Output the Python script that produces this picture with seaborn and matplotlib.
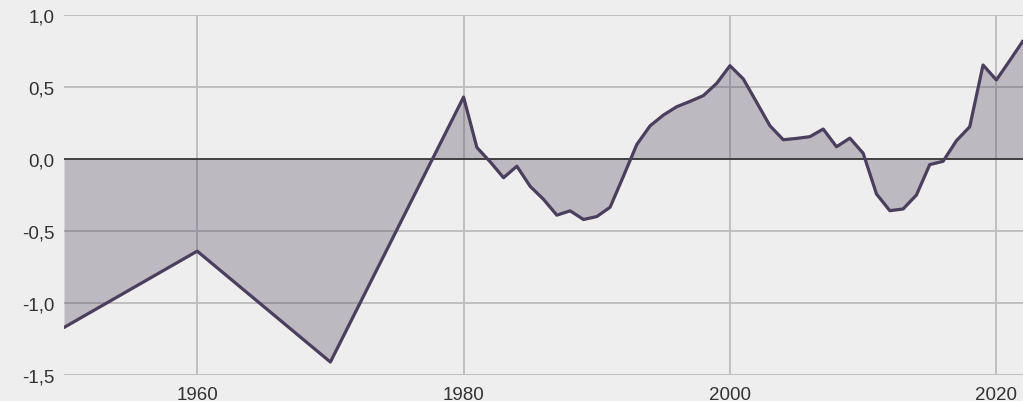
import matplotlib
matplotlib.use("Agg")
import matplotlib.pyplot as plt
import seaborn as sns
import pandas as pd

years = [1950, 1960, 1970, 1980, 1981, 1982, 1983, 1984, 1985, 1986, 1987,
         1988, 1989, 1990, 1991, 1992, 1993, 1994, 1995, 1996, 1997, 1998,
         1999, 2000, 2001, 2002, 2003, 2004, 2005, 2006, 2007, 2008, 2009,
         2010, 2011, 2012, 2013, 2014, 2015, 2016, 2017, 2018, 2019, 2020,
         2021, 2022]
values = [-1.17, -0.64, -1.41, 0.43, 0.08, -0.02, -0.13, -0.05, -0.19, -0.28,
          -0.39, -0.36, -0.42, -0.40, -0.335, -0.12, 0.10, 0.23, 0.305, 0.363,
          0.40, 0.44, 0.525, 0.648, 0.556, 0.394, 0.231, 0.134, 0.143, 0.155,
          0.208, 0.085, 0.145, 0.04, -0.243, -0.359, -0.347, -0.25, -0.039,
          -0.016, 0.127, 0.224, 0.653, 0.549, 0.683, 0.82]

x_ticks = [1960, 1980, 2000, 2020]
y_ticks = [-1.5, -1.0, -0.5, 0.0, 0.5, 1.0]
y_tick_labels = ["-1,5", "-1,0", "-0,5", "0,0", "0,5", "1,0"]

line_color = "#4a3f5c"
bg = "#eeeeee"

df = pd.DataFrame({"year": years, "value": values})

sns.set_style("white")
plt.rcParams["font.family"] = ["Liberation Sans", "DejaVu Sans"]

fig = plt.figure(figsize=(10.23, 4.02), dpi=100, facecolor=bg)
ax = fig.add_axes([64 / 1023, 26 / 402, 1 - 64 / 1023, 360 / 402])
ax.set_facecolor(bg)

ax.set_xticks(x_ticks)
ax.set_yticks(y_ticks)
ax.set_yticklabels(y_tick_labels)
ax.grid(True, color="#bcbcbc", linewidth=1.3)
ax.set_axisbelow(True)

ax.fill_between(df["year"], df["value"], 0, color=line_color, alpha=0.3,
                linewidth=0, zorder=2)
ax.axhline(0, color="#2e2e2e", linewidth=1.2, zorder=3)
sns.lineplot(data=df, x="year", y="value", color=line_color, linewidth=2.3,
             ax=ax, zorder=4)

ax.set_xlim(1950, 2022)
ax.set_ylim(-1.5, 1.0)
ax.set_xlabel("")
ax.set_ylabel("")
for s in ax.spines.values():
    s.set_visible(False)
ax.tick_params(axis="both", length=0, labelsize=13.5, colors="#333333")
ax.tick_params(axis="y", pad=7)
ax.tick_params(axis="x", pad=8)

fig.savefig("out.png", dpi=100, facecolor=bg)
